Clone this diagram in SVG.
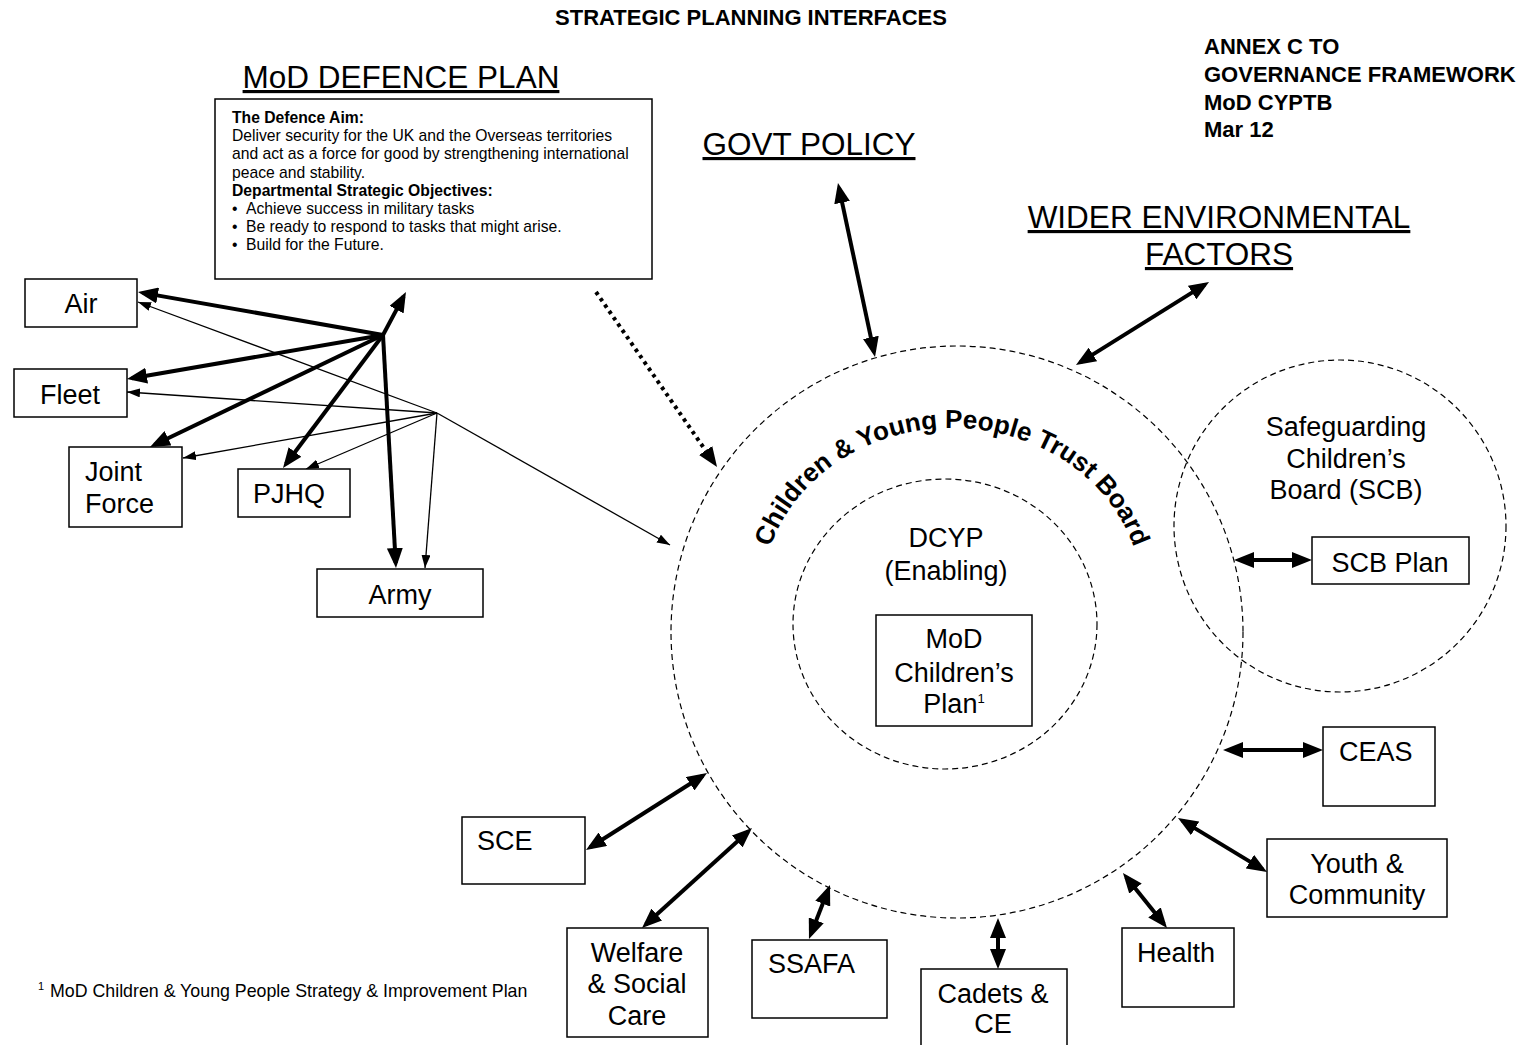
<svg xmlns="http://www.w3.org/2000/svg" width="1517" height="1045" viewBox="0 0 1517 1045">
<style>
text{font-family:"Liberation Sans",Arial,sans-serif;fill:#000}
.lbl{font-size:27px}
.hd{font-size:31.5px;text-decoration:underline}
.bold{font-weight:bold}
.box{fill:#fff;stroke:#000;stroke-width:1.5}
.ring{fill:none;stroke:#000;stroke-width:1.2;stroke-dasharray:6 4}
.thick{fill:none;stroke:#000;stroke-width:4}
.thin{fill:none;stroke:#000;stroke-width:1.3}
.dot{fill:none;stroke:#000;stroke-width:4;stroke-dasharray:3.5 4.2}
.small{font-size:15.7px}
.annex{font-size:22px;font-weight:bold}
</style>
<defs>
<marker id="big" viewBox="0 0 20 16" refX="15" refY="8" markerWidth="20" markerHeight="16" markerUnits="userSpaceOnUse" orient="auto-start-reverse"><path d="M0,0 L20,8 L0,16 z"/></marker>
<marker id="sm" viewBox="0 0 13 9" refX="13" refY="4.5" markerWidth="13" markerHeight="9" markerUnits="userSpaceOnUse" orient="auto"><path d="M0,0 L13,4.5 L0,9 z"/></marker>
<marker id="dotm" viewBox="0 0 20 16" refX="2" refY="8" markerWidth="20" markerHeight="16" markerUnits="userSpaceOnUse" orient="auto"><path d="M0,0 L20,8 L0,16 z"/></marker>
<path id="arcPath" d="M 762 597 A 190 169 0 0 1 1142 597"/>
</defs>
<rect width="1517" height="1045" fill="#fff"/>

<g id="title">
<text x="751" y="25" text-anchor="middle" class="annex">STRATEGIC PLANNING INTERFACES</text>
</g>
<g id="annex">
<text x="1204" y="54" class="annex">ANNEX C TO</text>
<text x="1204" y="82" class="annex">GOVERNANCE FRAMEWORK</text>
<text x="1204" y="110" class="annex">MoD CYPTB</text>
<text x="1204" y="137" class="annex">Mar 12</text>
</g>

<g id="rings">
<circle id="ctb-ring" class="ring" cx="957" cy="632" r="286"/>
<ellipse id="dcyp-ring" class="ring" cx="945" cy="624" rx="152" ry="145"/>
<circle id="scb-ring" class="ring" cx="1340" cy="526" r="166"/>
</g>

<g id="connectors">
<line class="thick" x1="383" y1="335" x2="142.9" y2="292.9" marker-end="url(#big)"/>
<line class="thick" x1="383" y1="335" x2="131.9" y2="378.2" marker-end="url(#big)"/>
<line class="thick" x1="383" y1="335" x2="154.5" y2="444.8" marker-end="url(#big)"/>
<line class="thick" x1="383" y1="335" x2="286" y2="464" marker-end="url(#big)"/>
<line class="thick" x1="383" y1="335" x2="395.7" y2="563" marker-end="url(#big)"/>
<line class="thick" x1="383" y1="335" x2="403.6" y2="296.4" marker-end="url(#big)"/>
<line class="thin" x1="437" y1="413" x2="138" y2="302" marker-end="url(#sm)"/>
<line class="thin" x1="437" y1="413" x2="127" y2="392" marker-end="url(#sm)"/>
<line class="thin" x1="437" y1="413" x2="183" y2="458" marker-end="url(#sm)"/>
<line class="thin" x1="437" y1="413" x2="306" y2="469" marker-end="url(#sm)"/>
<line class="thin" x1="437" y1="413" x2="425" y2="568" marker-end="url(#sm)"/>
<line class="thin" x1="437" y1="413" x2="670" y2="545" marker-end="url(#sm)"/>
<line class="dot" x1="596" y1="292" x2="706.8" y2="452.2" marker-end="url(#dotm)"/>
<line class="thick" x1="839" y1="187.9" x2="874" y2="352.1" marker-start="url(#big)" marker-end="url(#big)"/>
<line class="thick" x1="1080.2" y1="362.4" x2="1204.8" y2="284.6" marker-start="url(#big)" marker-end="url(#big)"/>
<line class="thick" x1="1239" y1="560" x2="1307" y2="560" marker-start="url(#big)" marker-end="url(#big)"/>
<line class="thick" x1="1228" y1="750" x2="1318" y2="750" marker-start="url(#big)" marker-end="url(#big)"/>
<line class="thick" x1="1182.3" y1="820.6" x2="1262.7" y2="869.4" marker-start="url(#big)" marker-end="url(#big)"/>
<line class="thick" x1="1126.1" y1="876.9" x2="1163.9" y2="924.1" marker-start="url(#big)" marker-end="url(#big)"/>
<line class="thick" x1="998" y1="923" x2="998" y2="964" marker-start="url(#big)" marker-end="url(#big)"/>
<line class="thick" x1="828.2" y1="889.7" x2="810.8" y2="934.3" marker-start="url(#big)" marker-end="url(#big)"/>
<line class="thick" x1="748.3" y1="831.4" x2="645.7" y2="924.6" marker-start="url(#big)" marker-end="url(#big)"/>
<line class="thick" x1="702.8" y1="775.7" x2="590.2" y2="847.3" marker-start="url(#big)" marker-end="url(#big)"/>
</g>

<g id="defence-plan">
<text x="401" y="88" text-anchor="middle" class="hd">MoD DEFENCE PLAN</text>
<rect class="box" x="215" y="99" width="437" height="180"/>
<text x="232" y="123" class="small bold">The Defence Aim:</text>
<text x="232" y="141" class="small">Deliver security for the UK and the Overseas territories</text>
<text x="232" y="159" class="small">and act as a force for good by strengthening international</text>
<text x="232" y="177.5" class="small">peace and stability.</text>
<text x="232" y="195.5" class="small bold">Departmental Strategic Objectives:</text>
<text x="232" y="214" class="small">•</text><text x="246" y="214" class="small">Achieve success in military tasks</text>
<text x="232" y="232" class="small">•</text><text x="246" y="232" class="small">Be ready to respond to tasks that might arise.</text>
<text x="232" y="250" class="small">•</text><text x="246" y="250" class="small">Build for the Future.</text>
</g>

<g id="govt-policy"><text x="809" y="155" text-anchor="middle" class="hd">GOVT POLICY</text></g>
<g id="wider-env">
<text x="1219" y="228" text-anchor="middle" class="hd">WIDER ENVIRONMENTAL</text>
<text x="1219" y="265" text-anchor="middle" class="hd">FACTORS</text>
</g>

<g id="air"><rect class="box" x="25" y="279" width="112" height="48"/><text x="81" y="313" text-anchor="middle" class="lbl">Air</text></g>
<g id="fleet"><rect class="box" x="14" y="369" width="113" height="48"/><text x="70" y="404" text-anchor="middle" class="lbl">Fleet</text></g>
<g id="joint-force"><rect class="box" x="69" y="447" width="113" height="80"/><text x="85" y="481" class="lbl">Joint</text><text x="85" y="513" class="lbl">Force</text></g>
<g id="pjhq"><rect class="box" x="238" y="469" width="112" height="48"/><text x="253" y="503" class="lbl">PJHQ</text></g>
<g id="army"><rect class="box" x="317" y="569" width="166" height="48"/><text x="400" y="604" text-anchor="middle" class="lbl">Army</text></g>

<g id="ctb">
<text class="bold" font-size="26"><textPath href="#arcPath" startOffset="50%" text-anchor="middle">Children &amp; Young People Trust Board</textPath></text>
</g>
<g id="dcyp">
<text x="946" y="547" text-anchor="middle" class="lbl">DCYP</text>
<text x="946" y="580" text-anchor="middle" class="lbl">(Enabling)</text>
</g>
<g id="mod-childrens-plan">
<rect class="box" x="876" y="615" width="156" height="111"/>
<text x="954" y="648" text-anchor="middle" class="lbl">MoD</text>
<text x="954" y="682" text-anchor="middle" class="lbl">Children’s</text>
<text x="954" y="713" text-anchor="middle" class="lbl">Plan<tspan font-size="13" dy="-10">1</tspan></text>
</g>
<g id="scb">
<text x="1346" y="436" text-anchor="middle" class="lbl">Safeguarding</text>
<text x="1346" y="468" text-anchor="middle" class="lbl">Children’s</text>
<text x="1346" y="499" text-anchor="middle" class="lbl">Board (SCB)</text>
</g>
<g id="scb-plan"><rect class="box" x="1312" y="537" width="157" height="47"/><text x="1390" y="572" text-anchor="middle" class="lbl">SCB Plan</text></g>
<g id="ceas"><rect class="box" x="1323" y="727" width="112" height="79"/><text x="1339" y="761" class="lbl">CEAS</text></g>
<g id="youth"><rect class="box" x="1267" y="839" width="180" height="78"/><text x="1357" y="873" text-anchor="middle" class="lbl">Youth &amp;</text><text x="1357" y="904" text-anchor="middle" class="lbl">Community</text></g>
<g id="health"><rect class="box" x="1122" y="928" width="112" height="79"/><text x="1176" y="962" text-anchor="middle" class="lbl">Health</text></g>
<g id="cadets"><rect class="box" x="921" y="969" width="146" height="80"/><text x="993" y="1003" text-anchor="middle" class="lbl">Cadets &amp;</text><text x="993" y="1033" text-anchor="middle" class="lbl">CE</text></g>
<g id="ssafa"><rect class="box" x="752" y="940" width="135" height="78"/><text x="768" y="973" class="lbl">SSAFA</text></g>
<g id="welfare"><rect class="box" x="567" y="928" width="141" height="109"/><text x="637" y="962" text-anchor="middle" class="lbl">Welfare</text><text x="637" y="993" text-anchor="middle" class="lbl">&amp; Social</text><text x="637" y="1025" text-anchor="middle" class="lbl">Care</text></g>
<g id="sce"><rect class="box" x="462" y="817" width="123" height="67"/><text x="477" y="850" class="lbl">SCE</text></g>

<g id="footnote">
<text x="38" y="990" font-size="11">1</text>
<text x="50" y="997" font-size="17.8">MoD Children &amp; Young People Strategy &amp; Improvement Plan</text>
</g>
</svg>
